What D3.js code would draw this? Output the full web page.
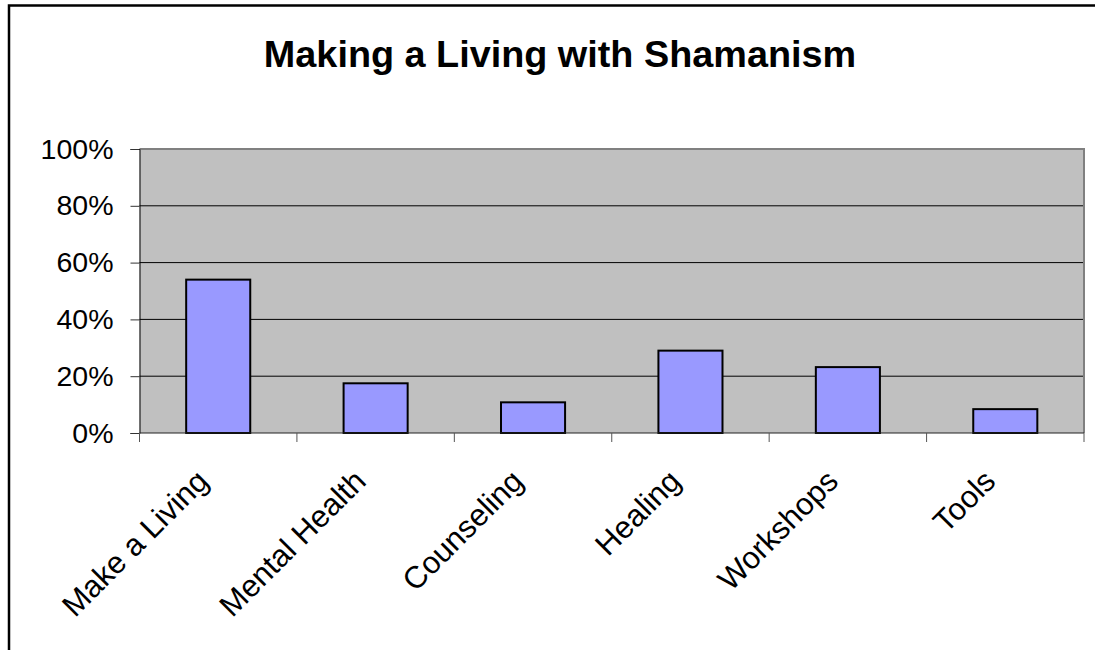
<!DOCTYPE html>
<html>
<head>
<meta charset="utf-8">
<script src="https://cdn.jsdelivr.net/npm/d3@7"></script>
<style>
  html, body { margin: 0; padding: 0; background: #fff; }
  svg { display: block; }
  text { font-family: "Liberation Sans", Arial, sans-serif; fill: #000; }
</style>
</head>
<body>
<svg id="chart" width="1095" height="650"></svg>
<script>
// Survey share for each way of earning income through shamanism
const categories = ["Make a Living", "Mental Health", "Counseling", "Healing", "Workshops", "Tools"];
const shares = [0.54, 0.175, 0.108, 0.29, 0.232, 0.084];
const yTicks = [0, 0.2, 0.4, 0.6, 0.8, 1.0];
const title = "Making a Living with Shamanism";

const svg = d3.select("#chart");

// outer frame of the chart object
svg.append("rect")
  .attr("x", 9).attr("y", 5.5)
  .attr("width", 1200).attr("height", 1000)
  .attr("fill", "#fff")
  .attr("stroke", "#000").attr("stroke-width", 2.5);

const plot = { left: 139.5, right: 1084, top: 149, bottom: 433 };

const x = d3.scaleBand()
  .domain(categories)
  .range([plot.left, plot.right])
  .paddingInner(0.593)
  .paddingOuter(0.2965);
const step = x.step();

const y = d3.scaleLinear().domain([0, 1]).range([plot.bottom, plot.top]);

// plot area background
svg.append("rect")
  .attr("x", plot.left).attr("y", plot.top)
  .attr("width", plot.right - plot.left).attr("height", plot.bottom - plot.top)
  .attr("fill", "#c0c0c0");

// horizontal gridlines
svg.append("g")
  .selectAll("line")
  .data(yTicks.filter(d => d > 0 && d < 1))
  .join("line")
  .attr("x1", plot.left).attr("x2", plot.right)
  .attr("y1", d => y(d)).attr("y2", d => y(d))
  .attr("stroke", "#000").attr("stroke-width", 1);

// plot area border (top and right)
svg.append("path")
  .attr("d", `M${plot.left},${plot.top}H${plot.right}V${plot.bottom}`)
  .attr("fill", "none")
  .attr("stroke", "#808080").attr("stroke-width", 2);

// bars
svg.append("g")
  .selectAll("rect")
  .data(categories.map((c, i) => ({ c, v: shares[i] })))
  .join("rect")
  .attr("x", d => x(d.c))
  .attr("y", d => y(d.v))
  .attr("width", x.bandwidth())
  .attr("height", d => y(0) - y(d.v))
  .attr("fill", "#9999ff")
  .attr("stroke", "#000").attr("stroke-width", 2);

// y axis
const yAxis = d3.axisLeft(y)
  .tickValues(yTicks)
  .tickFormat(d3.format(".0%"))
  .tickSize(9)
  .tickPadding(17);
const gy = svg.append("g")
  .attr("transform", `translate(${plot.left},0)`)
  .call(yAxis);
gy.select(".domain").attr("stroke", "#000").attr("stroke-width", 1);
gy.selectAll(".tick line").attr("stroke", "#333");
gy.selectAll(".tick text")
  .attr("font-size", 28.5)
  .attr("font-family", "Liberation Sans, Arial, sans-serif")
  .attr("fill", "#000");

// x axis: ticks sit on category boundaries
const boundaries = d3.range(categories.length + 1).map(i => plot.left + i * step);
svg.append("line")
  .attr("x1", plot.left).attr("x2", plot.right)
  .attr("y1", plot.bottom).attr("y2", plot.bottom)
  .attr("stroke", "#222").attr("stroke-width", 1);
svg.append("g")
  .selectAll("line")
  .data(boundaries)
  .join("line")
  .attr("x1", d => d).attr("x2", d => d)
  .attr("y1", plot.bottom).attr("y2", plot.bottom + 9)
  .attr("stroke", "#555").attr("stroke-width", 1);

// rotated category labels
svg.append("g")
  .selectAll("text")
  .data(categories)
  .join("text")
  .attr("transform", d => `translate(${x(d) + x.bandwidth() / 2 - 8},${plot.bottom + 50}) rotate(-45)`)
  .attr("text-anchor", "end")
  .attr("font-size", 31)
  .text(d => d);

// title
svg.append("text")
  .attr("x", 560).attr("y", 67)
  .attr("text-anchor", "middle")
  .attr("font-size", 37.8)
  .attr("font-weight", "bold")
  .text(title);
</script>
</body>
</html>
